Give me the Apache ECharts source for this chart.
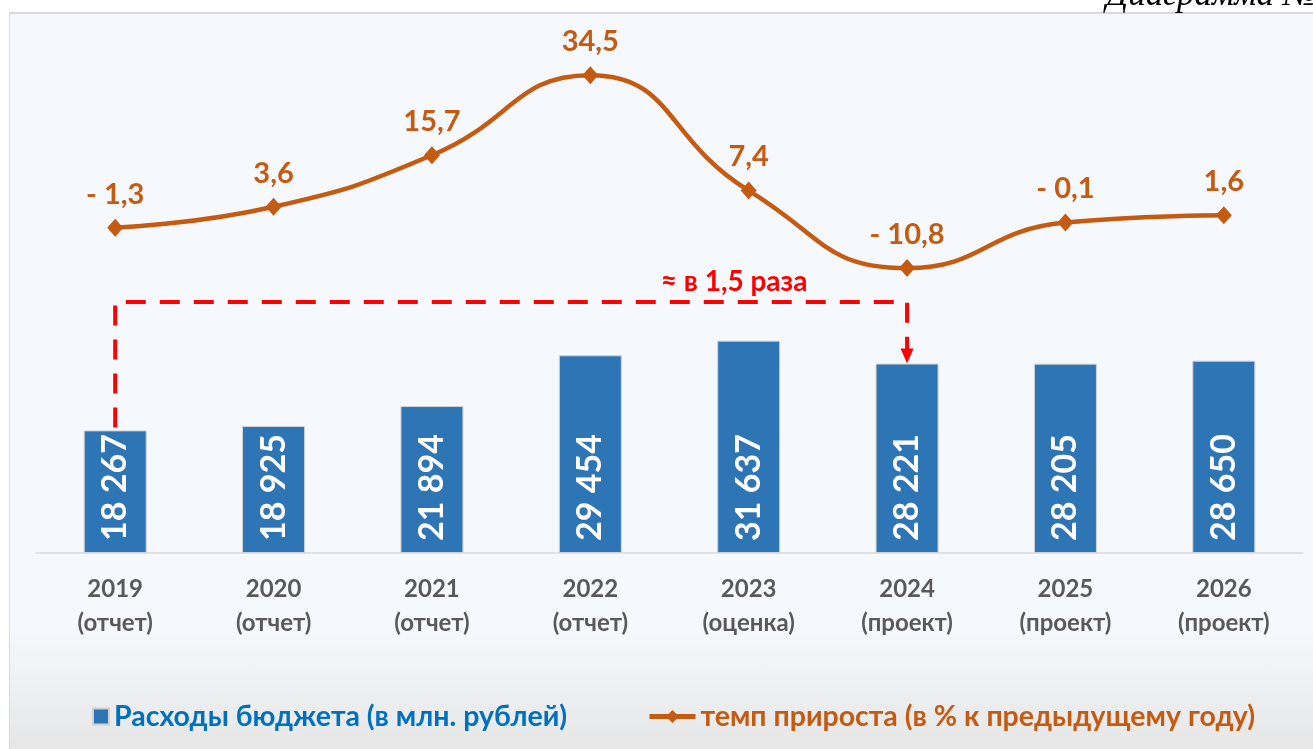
<!DOCTYPE html>
<html><head><meta charset="utf-8">
<script src="https://cdn.jsdelivr.net/npm/echarts@6/dist/echarts.min.js"></script>
<style>
html,body{margin:0;padding:0;background:#fff;overflow:hidden}
#panel{position:absolute;left:9px;top:12px;width:1304px;height:737px;box-sizing:border-box;border-left:1px solid #D9D9D9;border-top:2px solid #D9D9D9;background:linear-gradient(to bottom,#F5F8FC 0%,#F5F8FC 84%,#E6E6E6 100%)}
#c{position:absolute;left:0;top:0;width:1313px;height:749px}
</style>
</head><body><div id="panel"></div><div id="c"></div>
<script>
// ---- data ----
const years = ['2019','2020','2021','2022','2023','2024','2025','2026'];
const stages = ['(отчет)','(отчет)','(отчет)','(отчет)','(оценка)','(проект)','(проект)','(проект)'];
const spending = [18267,18925,21894,29454,31637,28221,28205,28650];
const growth = [-1.3,3.6,15.7,34.5,7.4,-10.8,-0.1,1.6];
const seriesNames = ['Расходы бюджета (в млн. рублей)','темп прироста (в % к предыдущему году)'];
const noteText = '≈ в 1,5 раза';
const noteFrom = 0, noteTo = 5, noteLevel = 37400;
const headerText = 'Диаграмма № 4';

const FONT = 'Lato, "Open Sans", "Noto Sans", sans-serif';
const ORANGE = '#C55A11';
const fmtInt = v => String(v).replace(/\B(?=(\d{3})+(?!\d))/g, ' ');
const fmtPct = v => (v < 0 ? '- ' : '') + Math.abs(v).toFixed(1).replace('.', ',');

const chart = echarts.init(document.getElementById('c'), null, {renderer:'canvas'});
chart.setOption({
  backgroundColor: 'transparent',
  animation: false,
  grid: {left: 36, right: 10, top: 16, bottom: 196},
  legend: [
    {data:[seriesNames[0]], left: 87, top: 697, itemWidth: 16, itemHeight: 16, itemGap: 8,
     icon: 'rect',
     textStyle:{fontFamily: FONT, fontWeight:'bold', fontSize: 28.5, color:'#0070C0'}},
    {data:[seriesNames[1]], left: 642, top: 697, itemWidth: 46, itemHeight: 16,
     lineStyle:{width:5},
     textStyle:{fontFamily: FONT, fontWeight:'bold', fontSize: 28.5, color: ORANGE}}
  ],
  xAxis: {
    type:'category', data: years, boundaryGap: true,
    axisLine:{lineStyle:{color:'#D9D9D9', width:1.5}},
    axisTick:{length:8, lineStyle:{color:'#D9D9D9', width:1.5}},
    axisLabel:{
      margin: 19, lineHeight: 34,
      fontFamily: FONT, fontWeight:'bold', fontSize: 24, color:'#595959',
      formatter: (v, i) => v + '\n' + stages[i]
    }
  },
  yAxis: [
    {type:'value', min:0, max:80000, show:false, splitLine:{show:false}},
    {type:'value', min:-77.7, max:48.4, show:false, splitLine:{show:false}}
  ],
  series: [
    {name: seriesNames[0], type:'bar', data: spending, barWidth: 63, yAxisIndex:0,
     itemStyle:{color:'#2E75B6', borderColor:'#D2D2D2', borderWidth:1},
     label:{show:true, position:'insideBottom', rotate:90, align:'left', verticalAlign:'middle',
       distance: 12, fontFamily: FONT, fontWeight:'bold', fontSize: 34, color:'#FFFFFF',
       formatter: p => fmtInt(p.value)}},
    {name: seriesNames[1], type:'line', data: growth, yAxisIndex:1, smooth: 0.5,
     symbol:'diamond', symbolSize:[16,18],
     lineStyle:{color: ORANGE, width:4.5}, itemStyle:{color: ORANGE},
     label:{show:true, position:'top', distance: 10, fontFamily: FONT, fontWeight:'bold',
       fontSize: 29, color: ORANGE, formatter: p => fmtPct(p.value)}}
  ]
});

// annotation built from the data positions
const pFrom = chart.convertToPixel({seriesIndex:0}, [years[noteFrom], spending[noteFrom]]);
const pTo = chart.convertToPixel({seriesIndex:0}, [years[noteTo], spending[noteTo]]);
const yLevel = chart.convertToPixel({seriesIndex:0}, [years[noteFrom], noteLevel])[1];
const arrowH = 15, arrowW = 13;
chart.setOption({
  graphic: {elements: [
    {type:'text', left: 1106, top: -22, silent:true,
     style:{text: headerText, fontFamily:'"Liberation Serif", "DejaVu Serif", serif', fontStyle:'italic',
       fontSize: 35, fill:'#000'}},
    {type:'polyline', silent:true,
     shape:{points:[[pFrom[0], pFrom[1]-3],[pFrom[0], yLevel],[pTo[0], yLevel],[pTo[0], pTo[1]-arrowH+1]]},
     style:{stroke:'#FF0000', lineWidth:4, fill:null, lineDash:[20,14]}},
    {type:'polygon', silent:true,
     shape:{points:[[pTo[0]-arrowW/2, pTo[1]-arrowH],[pTo[0]+arrowW/2, pTo[1]-arrowH],[pTo[0], pTo[1]]]},
     style:{fill:'#FF0000'}},
    {type:'text', silent:true, x: pTo[0] - 173, y: yLevel - 20,
     style:{text: noteText, fontFamily: FONT, fontWeight:'bold', fontSize: 28, fill:'#FF0000',
       align:'center', verticalAlign:'middle'}}
  ]}
});
</script>
</body></html>
